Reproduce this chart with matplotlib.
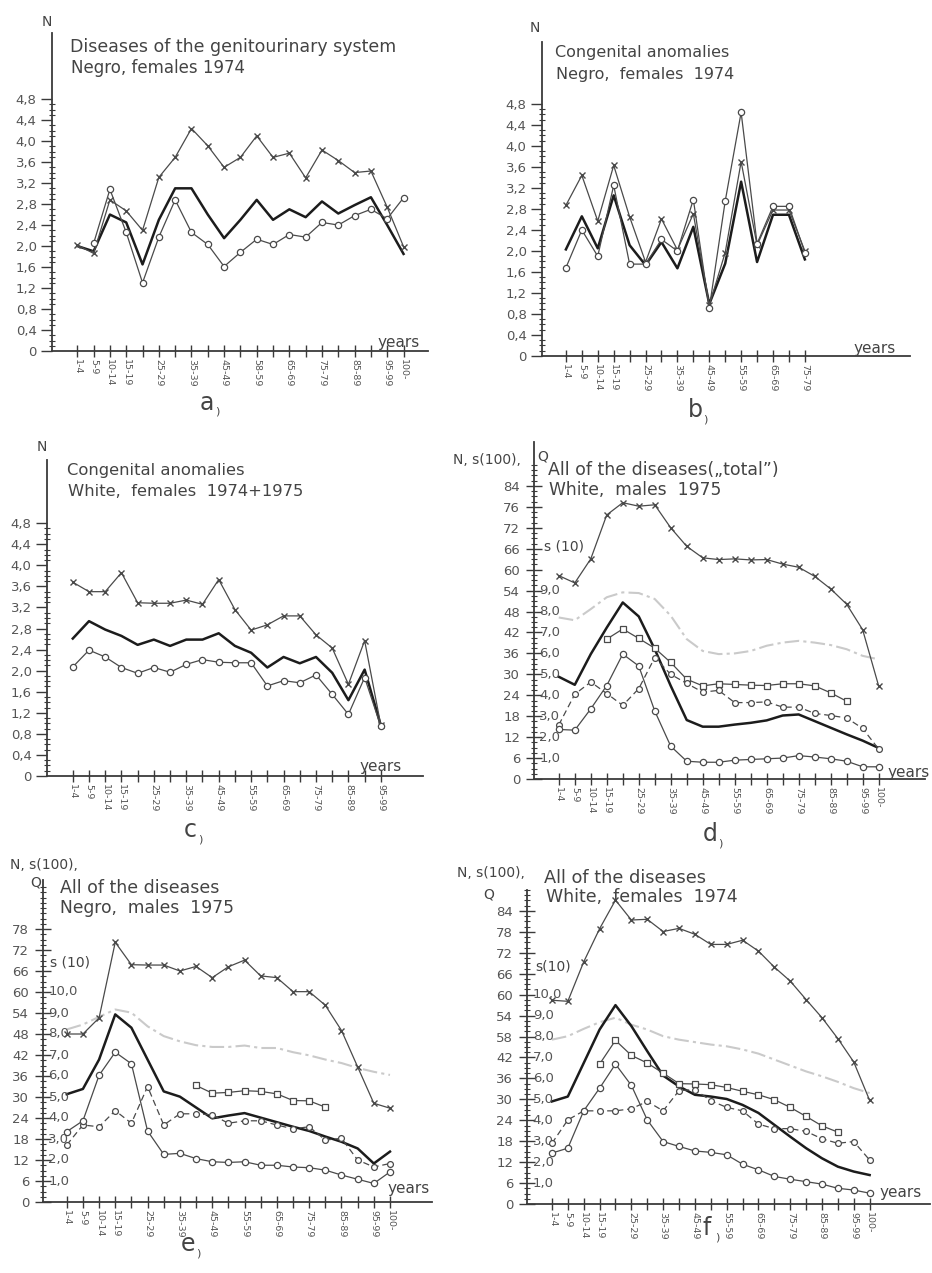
import numpy as np
import matplotlib
matplotlib.use("Agg")
import matplotlib.pyplot as plt
from matplotlib.ticker import FixedLocator

plt.rcParams['font.family'] = ['DejaVu Sans']

nan = np.nan
# ---------------- data ----------------
ages = ["1-4", "5-9", "10-14", "15-19", "20-24", "25-29", "30-34", "35-39", "40-44",
        "45-49", "50-54", "55-59", "60-64", "65-69", "70-74", "75-79", "80-84",
        "85-89", "90-94", "95-99", "100-"]

labels_a = ["1-4", "5-9", "10-14", "15-19", "", "25-29", "", "35-39", "", "45-49", "",
            "58-59", "", "65-69", "", "75-79", "", "85-89", "", "95-99", "100-"]
labels_b = ["1-4", "5-9", "10-14", "15-19", "", "25-29", "", "35-39", "", "45-49", "",
            "55-59", "", "65-69", "", "75-79"]
labels_c = ["1-4", "5-9", "10-14", "15-19", "", "25-29", "", "35-39", "", "45-49", "",
            "55-59", "", "65-69", "", "75-79", "", "85-89", "", "95-99"]
labels_def = ["1-4", "5-9", "10-14", "15-19", "", "25-29", "", "35-39", "", "45-49", "",
              "55-59", "", "65-69", "", "75-79", "", "85-89", "", "95-99", "100-"]

# a) genitourinary, Negro females 1974
a_cross = [2.02, 1.86, 2.88, 2.67, 2.30, 3.31, 3.69, 4.24, 3.91, 3.50, 3.69, 4.10, 3.69,
           3.77, 3.30, 3.83, 3.63, 3.40, 3.43, 2.74, 1.99]
a_mean = [2.0, 1.9, 2.6, 2.45, 1.65, 2.5, 3.1, 3.1, 2.6, 2.15, 2.5, 2.88, 2.5, 2.7, 2.55,
          2.85, 2.62, 2.78, 2.93, 2.4, 1.85]
a_circ = [nan, 2.05, 3.08, 2.26, 1.30, 2.17, 2.88, 2.26, 2.03, 1.61, 1.88, 2.13, 2.03, 2.22,
          2.17, 2.45, 2.40, 2.58, 2.70, 2.52, 2.92]

# b) congenital anomalies, Negro females 1974
b_cross = [2.87, 3.44, 2.57, 3.63, 2.65, 1.79, 2.61, 2.02, 2.71, 0.97, 1.97, 3.70, 2.11,
           2.78, 2.78, 2.0]
b_circ = [1.68, 2.40, 1.90, 3.25, 1.75, 1.75, 2.22, 2.0, 2.98, 0.91, 2.95, 4.64, 2.14,
          2.85, 2.85, 1.97]
b_mean = [2.03, 2.66, 2.05, 3.06, 2.11, 1.73, 2.17, 1.67, 2.46, 0.99, 1.76, 3.32, 1.79,
          2.69, 2.69, 1.84]

# c) congenital anomalies, White females 1974+1975
c_cross = [3.68, 3.50, 3.50, 3.86, 3.29, 3.28, 3.28, 3.34, 3.26, 3.73, 3.16, 2.77, 2.87,
           3.04, 3.04, 2.68, 2.43, 1.74, 2.57, 0.96]
c_circ = [2.07, 2.39, 2.26, 2.06, 1.95, 2.06, 1.97, 2.12, 2.21, 2.16, 2.15, 2.15, 1.71,
          1.81, 1.77, 1.92, 1.55, 1.17, 1.87, 0.94]
c_mean = [2.61, 2.94, 2.78, 2.66, 2.49, 2.59, 2.47, 2.59, 2.59, 2.71, 2.47, 2.34, 2.06,
          2.26, 2.14, 2.26, 1.96, 1.44, 2.02, 0.96]

# d) all diseases, White males 1975
d_q = [58.3, 56.2, 63.1, 75.7, 79.2, 78.2, 78.6, 72.0, 66.7, 63.4, 62.9, 63.1, 62.8, 62.9,
       61.6, 60.7, 58.1, 54.5, 50.1, 42.8, 26.7]
d_mean = [29.3, 27.0, 35.8, 43.4, 50.6, 46.6, 37.2, 26.7, 16.9, 15.0, 15.0, 15.6, 16.1,
          16.8, 18.2, 18.5, 16.6, 14.7, 12.8, 11.0, 8.9]
d_s10 = [46.3, 45.5, 48.7, 52.1, 53.5, 53.3, 51.6, 46.8, 40.1, 36.7, 35.8, 36.0, 36.7,
         38.2, 39.1, 39.6, 39.1, 38.4, 37.2, 35.3, 34.3]
d_sq = [nan, nan, nan, 40.1, 43.0, 40.3, 37.5, 33.4, 28.6, 26.7, 27.3, 27.1, 26.9, 26.8,
        27.3, 27.3, 26.7, 24.7, 22.3, nan, nan]
d_dash = [15.5, 24.3, 27.8, 24.5, 21.1, 25.9, 34.8, 30.0, 27.4, 24.9, 25.4, 21.9, 21.9,
          22.1, 20.6, 20.6, 18.8, 18.2, 17.5, 14.5, 8.6]
d_low = [14.2, 14.0, 20.1, 26.8, 35.8, 32.4, 19.5, 9.4, 5.1, 4.8, 4.8, 5.4, 5.6, 5.8, 6.0,
         6.7, 6.3, 5.8, 5.1, 3.5, 3.5]

# e) all diseases, Negro males 1975
e_q = [48.0, 48.0, 52.6, 74.2, 67.8, 67.7, 67.7, 66.0, 67.3, 64.1, 67.2, 69.1, 64.6, 64.1,
       60.1, 60.1, 56.2, 49.0, 38.6, 28.2, 26.8]
e_mean = [30.8, 32.3, 40.7, 53.6, 49.8, 40.7, 31.6, 30.1, 27.0, 23.9, 24.7, 25.4, 24.1,
          22.8, 21.5, 20.3, 18.7, 17.2, 15.3, 11.0, 14.4]
e_s10 = [49.3, 50.7, 52.9, 55.0, 54.1, 50.2, 47.4, 45.9, 44.8, 44.3, 44.3, 44.7, 44.0,
         44.0, 42.8, 41.9, 40.7, 39.7, 38.3, 37.2, 36.3]
e_sq = [nan, nan, nan, nan, nan, nan, nan, nan, 33.3, 31.1, 31.3, 31.8, 31.6, 30.9, 29.0,
        28.9, 27.1, nan, nan, nan, nan]
e_dash = [16.3, 22.0, 21.5, 26.1, 22.5, 33.0, 22.0, 25.2, 25.2, 24.9, 22.5, 23.2, 23.2,
          22.0, 20.9, 21.5, 17.7, 18.2, 12.0, 10.0, 11.0]
e_low = [20.1, 23.2, 36.2, 42.8, 39.5, 20.3, 13.6, 13.9, 12.4, 11.5, 11.3, 11.5, 10.5,
         10.5, 10.0, 9.8, 9.1, 7.7, 6.5, 5.3, 8.6]

# f) all diseases, White females 1974
f_q = [58.4, 58.1, 69.4, 78.9, 87.1, 81.4, 81.6, 78.1, 79.0, 77.3, 74.4, 74.4, 75.6, 72.5,
       67.9, 63.9, 58.6, 53.4, 47.4, 40.7, 29.7]
f_mean = [29.4, 30.8, 40.4, 50.0, 57.0, 51.0, 43.8, 36.8, 33.7, 31.3, 30.8, 30.1, 28.4,
          26.1, 22.7, 19.3, 16.0, 13.1, 10.7, 9.3, 8.3]
f_s10 = [47.1, 48.1, 50.2, 52.1, 53.4, 51.4, 50.0, 48.1, 47.1, 46.4, 45.7, 45.2, 44.3,
         43.1, 41.4, 39.7, 38.0, 36.6, 35.0, 33.2, 31.8]
f_sq = [nan, nan, nan, 40.1, 46.9, 42.6, 40.4, 37.5, 34.5, 34.4, 34.2, 33.4, 32.3, 31.3,
        29.9, 27.7, 25.1, 22.4, 20.6, nan, nan]
f_dash = [17.4, 24.1, 26.7, 26.7, 26.7, 27.3, 29.4, 26.7, 32.5, 32.8, 29.6, 27.7, 26.7,
          22.9, 21.6, 21.6, 20.8, 18.7, 17.4, 17.9, 12.6]
f_low = [14.6, 16.0, 26.7, 33.2, 40.1, 34.0, 24.1, 17.9, 16.5, 15.2, 14.8, 14.1, 11.4,
         9.8, 7.9, 7.1, 6.4, 5.7, 4.5, 4.0, 3.1]

small_ticks = [0.0, 0.4, 0.8, 1.2, 1.6, 2.0, 2.4, 2.8, 3.2, 3.6, 4.0, 4.4, 4.8]
small_labels = ["0", "0,4", "0,8", "1,2", "1,6", "2,0", "2,4", "2,8", "3,2", "3,6",
                "4,0", "4,4", "4,8"]
big_ticks_d = [0, 6, 12, 18, 24, 30, 36, 42, 48, 54, 60, 66, 72, 78, 84]
big_labels_d = ["0", "6", "12", "18", "24", "30", "36", "42", "48", "54", "60", "66",
                "72", "76", "84"]
big_ticks_e = [0, 6, 12, 18, 24, 30, 36, 42, 48, 54, 60, 66, 72, 78]
big_labels_e = ["0", "6", "12", "18", "24", "30", "36", "42", "48", "54", "60", "66",
                "72", "78"]
big_ticks_f = [0, 6, 12, 18, 24, 30, 36, 42, 48, 54, 60, 66, 72, 78, 84]
big_labels_f = ["0", "6", "12", "18", "24", "30", "36", "42", "58", "54", "60", "66",
                "72", "78", "84"]
s10_ticks_d = [6, 12, 18, 24, 30, 36, 42, 48, 54]
s10_ticks_ef = [6, 12, 18, 24, 30, 36, 42, 48, 54, 60]
s10_labels = ["1,0", "2,0", "3,0", "4,0", "5,0", "6,0", "7,0", "8,0", "9,0", "10,0"]

# ---------------- drawing ----------------
W, H = 932, 1273
TXT = "#444444"
TICK = "#555555"
AX = "#3a3a3a"
LN = "#4a4a4a"

fig = plt.figure(figsize=(W / 100, H / 100), dpi=100)
fig.patch.set_facecolor("white")


def axes_px(left, right, top, bottom):
    return fig.add_axes([left / W, 1 - bottom / H, (right - left) / W, (bottom - top) / H])


def ftext(x, y, s, size=11, ha="left", va="center", color=TXT, **kw):
    fig.text(x / W, 1 - y / H, s, fontsize=size, ha=ha, va=va, color=color, **kw)


def style(ax, labels, xlim, ylim, yt, yl, minor, inout=False):
    ax.set_xlim(*xlim)
    ax.set_ylim(*ylim)
    ax.patch.set_alpha(0)
    for s in ["top", "right"]:
        ax.spines[s].set_visible(False)
    for s in ["left", "bottom"]:
        ax.spines[s].set_color(AX)
        ax.spines[s].set_linewidth(1.3)
    ax.set_xticks(range(len(labels)))
    ax.set_xticklabels(labels, rotation=270, fontsize=6.8, color=TICK)
    ax.tick_params(axis="x", direction="inout", length=9, width=1.0, color=AX, pad=1)
    ax.set_yticks(yt)
    ax.set_yticklabels(yl, fontsize=9.5, color=TICK)
    ax.yaxis.set_minor_locator(FixedLocator(minor))
    if inout:
        ax.tick_params(axis="y", which="major", direction="inout", length=12, width=1.0,
                       color=AX, pad=4)
        ax.tick_params(axis="y", which="minor", direction="inout", length=5, width=0.8,
                       color=AX)
    else:
        ax.tick_params(axis="y", which="major", direction="out", length=8, width=1.0,
                       color=AX, pad=3)
        ax.tick_params(axis="y", which="minor", direction="inout", length=4, width=0.8,
                       color=AX)


def series(ax, y, kind):
    x = np.arange(len(y))
    y = np.asarray(y, dtype=float)
    if kind == "x":
        ax.plot(x, y, color=LN, lw=0.9, marker="x", ms=4, mew=1.0, zorder=4)
    elif kind == "mean":
        ax.plot(x, y, color="#1c1c1c", lw=1.8, zorder=3)
    elif kind == "o":
        ax.plot(x, y, color=LN, lw=0.9, marker="o", ms=4.5, mfc="white", mew=0.9, zorder=4)
    elif kind == "dash":
        ax.plot(x, y, color=LN, lw=0.9, ls=(0, (5, 3)), marker="o", ms=4.2, mfc="white",
                mew=0.9, zorder=4)
    elif kind == "sq":
        ax.plot(x, y, color=LN, lw=0.9, marker="s", ms=3.8, mfc="white", mew=0.9, zorder=4)
    elif kind == "gray":
        ax.plot(x, y, color="#cacaca", lw=1.5, ls=(0, (7, 2, 1.5, 2)), zorder=2)


def panel_letter(xc, y, s):
    ftext(xc, y, s, size=17, ha="center")
    ftext(xc + 8, y + 9, ")", size=8)


minor_small = list(np.arange(0, 4.81, 0.1))
minor_big = list(np.arange(0, 90.1, 1.5))

# ---- a ----
ax = axes_px(52, 428, 33, 351)
style(ax, labels_a, (-1.55, 21.5), (0, 6.06), small_ticks, small_labels, minor_small)
series(ax, a_cross, "x")
series(ax, a_mean, "mean")
series(ax, a_circ, "o")
ftext(42, 22, "N", size=10)
ftext(70, 47, "Diseases of the genitourinary system", size=12.5)
ftext(71, 68, "Negro, females 1974", size=12)
ftext(377, 342, "years", size=11)
panel_letter(207, 403, "a")

# ---- b ----
ax = axes_px(542, 910, 42, 356)
style(ax, labels_b, (-1.5, 21.6), (0, 5.98), small_ticks, small_labels, minor_small)
series(ax, b_cross, "x")
series(ax, b_mean, "mean")
series(ax, b_circ, "o")
ftext(530, 28, "N", size=10)
ftext(555, 53, "Congenital anomalies", size=11.5)
ftext(556, 75, "Negro,  females  1974", size=11.5)
ftext(853, 348, "years", size=11)
panel_letter(695, 410, "b")

# ---- c ----
ax = axes_px(47, 423, 460, 776)
style(ax, labels_c, (-1.59, 21.6), (0, 6.0), small_ticks, small_labels, minor_small)
series(ax, c_cross, "x")
series(ax, c_mean, "mean")
series(ax, c_circ, "o")
ftext(37, 447, "N", size=10)
ftext(67, 470, "Congenital anomalies", size=11.8)
ftext(68, 492, "White,  females  1974+1975", size=11.8)
ftext(360, 767, "years", size=11)
panel_letter(190, 830, "c")


def big_panel(box, labels, xlim, ylim, yt, yl, s10t, data):
    ax = axes_px(*box)
    style(ax, labels, xlim, ylim, yt, yl, minor_big, inout=True)
    q, mean, s10, sq, dash, low = data
    series(ax, s10, "gray")
    series(ax, q, "x")
    series(ax, mean, "mean")
    series(ax, sq, "sq")
    series(ax, dash, "dash")
    series(ax, low, "o")
    tr = ax.get_yaxis_transform()
    for v, s in zip(s10t, s10_labels):
        ax.text(0.014, v, s, transform=tr, fontsize=9.5, color=TICK, ha="left",
                va="center", clip_on=False)
    return ax


# ---- d ----
big_panel((534, 925, 442, 779), labels_def, (-1.55, 22.9), (0, 96.6), big_ticks_d,
          big_labels_d, s10_ticks_d, (d_q, d_mean, d_s10, d_sq, d_dash, d_low))
ftext(453, 460, "N, s(100),", size=10)
ftext(537, 457, "Q", size=10)
ftext(548, 470, "All of the diseases(\u201etotal\u201d)", size=12.5)
ftext(549, 490, "White,  males  1975", size=12.3)
ftext(544, 547, "s (10)", size=10)
ftext(887, 772, "years", size=11)
panel_letter(710, 834, "d")

# ---- e ----
big_panel((43, 432, 880, 1202), labels_def, (-1.47, 22.6), (0, 92), big_ticks_e,
          big_labels_e, s10_ticks_ef, (e_q, e_mean, e_s10, e_sq, e_dash, e_low))
ftext(10, 865, "N, s(100),", size=10)
ftext(30, 882, "Q", size=10)
ftext(60, 888, "All of the diseases", size=12.5)
ftext(60, 908, "Negro,  males  1975", size=12.3)
ftext(50, 962, "s (10)", size=10)
ftext(387, 1188, "years", size=11)
panel_letter(188, 1244, "e")

# ---- f ----
big_panel((527, 930, 890, 1204), labels_def, (-1.57, 23.8), (0, 90), big_ticks_f,
          big_labels_f, s10_ticks_ef, (f_q, f_mean, f_s10, f_sq, f_dash, f_low))
ftext(457, 873, "N, s(100),", size=10)
ftext(483, 895, "Q", size=10)
ftext(544, 878, "All of the diseases", size=12.8)
ftext(546, 897, "White,  females  1974", size=12.5)
ftext(535, 967, "s(10)", size=10)
ftext(880, 1193, "years", size=11)
panel_letter(707, 1228, "f")

fig.savefig("out.png", dpi=100, facecolor="white")
